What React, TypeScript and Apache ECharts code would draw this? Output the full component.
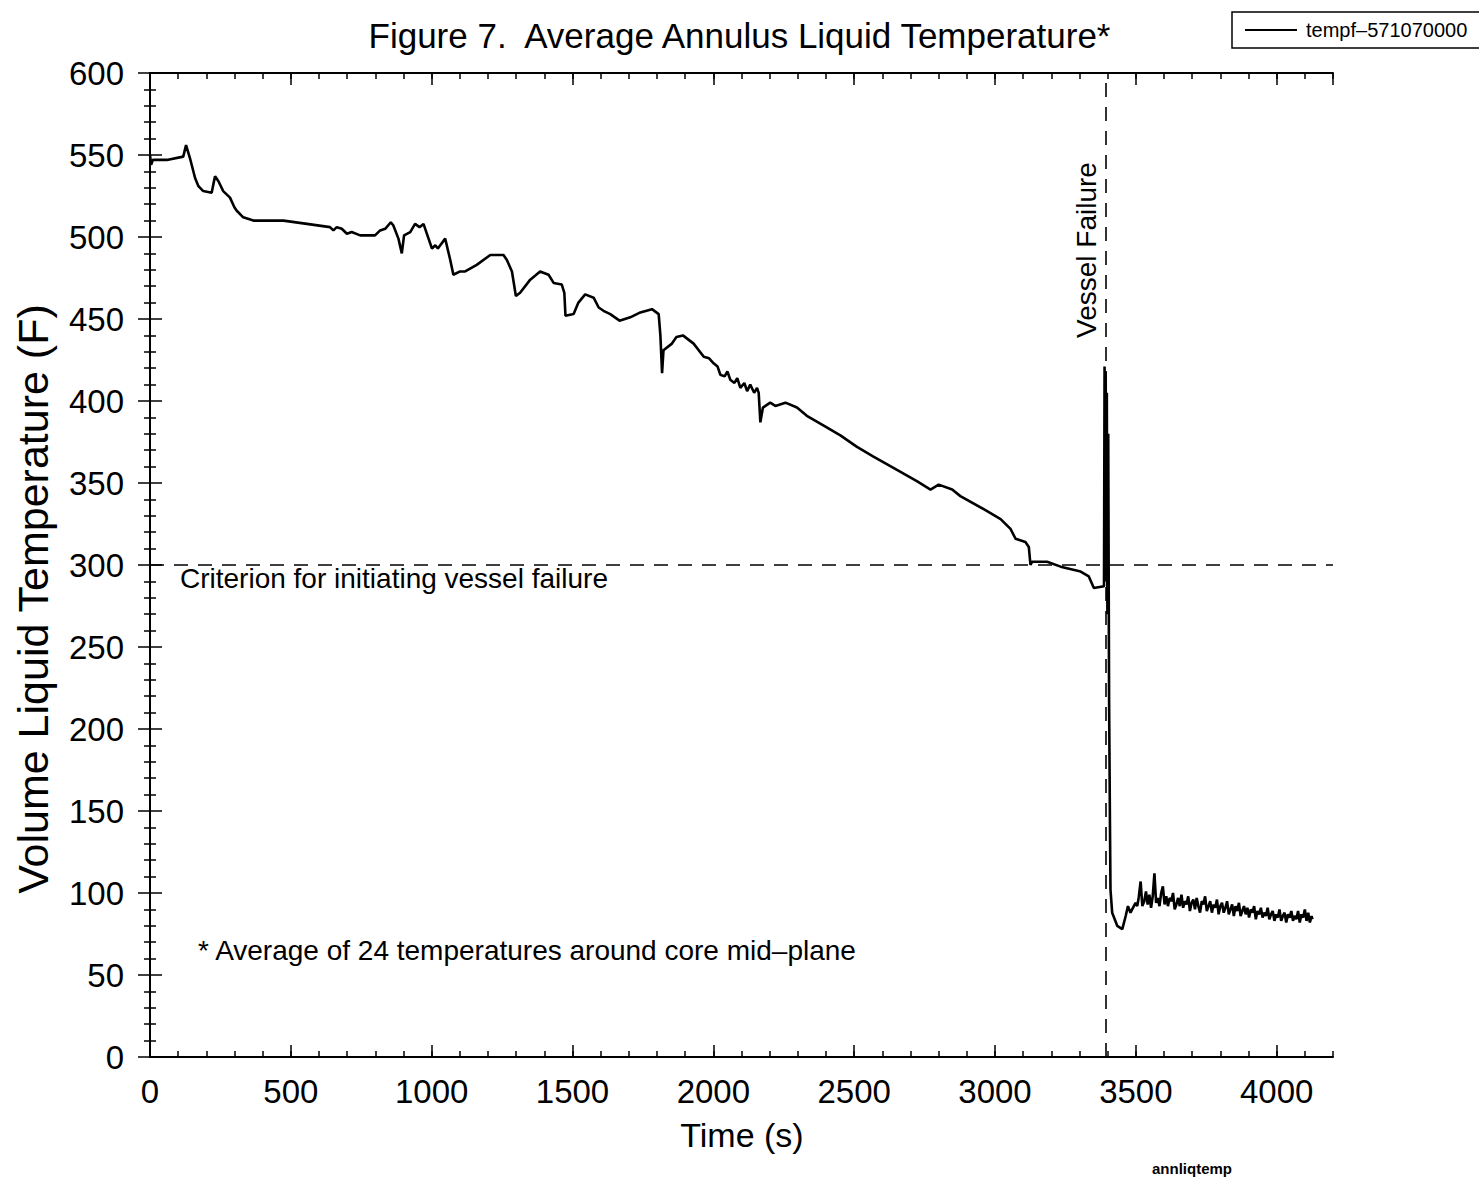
import React, { useEffect, useRef } from "react";
import * as echarts from "echarts";

const FONT = "Liberation Sans, Arial, Helvetica, sans-serif";

const chartTitle = "Figure 7.  Average Annulus Liquid Temperature*";
const seriesName = "tempf–571070000";
const xTitle = "Time (s)";
const yTitle = "Volume Liquid Temperature (F)";
const criterionText = "Criterion for initiating vessel failure";
const footnoteText = "* Average of 24 temperatures around core mid–plane";
const vesselText = "Vessel Failure";
const fileTag = "annliqtemp";

const criterionTemp = 300;
const vesselFailureTime = 3393;

// Time (s)
const times = [
  0, 4, 10, 60, 118, 128, 142, 160, 172, 189, 219, 226, 231, 243, 260, 284, 300, 308, 331, 367,
  420, 474, 557, 639, 651, 663, 681, 699, 716, 746, 799, 817, 835, 855, 864, 882, 894, 902, 924, 941,
  957, 971, 985, 1001, 1013, 1022, 1048, 1066, 1077, 1101, 1119, 1160, 1208, 1255, 1267, 1285, 1299, 1314, 1350, 1385,
  1415, 1433, 1462, 1471, 1475, 1504, 1521, 1545, 1575, 1593, 1610, 1634, 1667, 1705, 1741, 1782, 1806, 1812, 1818, 1823,
  1853, 1869, 1892, 1930, 1966, 1985, 2001, 2015, 2025, 2040, 2050, 2060, 2075, 2085, 2096, 2110, 2120, 2131, 2145, 2155,
  2161, 2167, 2176, 2202, 2220, 2256, 2297, 2332, 2392, 2451, 2510, 2570, 2652, 2724, 2771, 2800, 2848, 2877, 2960, 3020,
  3055, 3073, 3108, 3120, 3126, 3132, 3185, 3233, 3304, 3333, 3351, 3387,
  3389, 3391, 3393, 3395, 3397, 3399, 3402, 3405, 3408, 3410, 3416, 3434, 3452, 3464, 3472, 3481, 3499,
  3505, 3510, 3517, 3523, 3530, 3536, 3542, 3548, 3554, 3560, 3566, 3572, 3578, 3584, 3590, 3596, 3602, 3608, 3614, 3620,
  3626, 3632, 3638, 3644, 3650, 3656, 3662, 3668, 3674, 3680, 3686, 3692, 3698, 3704, 3710, 3716, 3722, 3728, 3734, 3740,
  3746, 3752, 3758, 3764, 3770, 3776, 3782, 3788, 3794, 3800, 3806, 3812, 3818, 3824, 3830, 3836, 3842, 3848, 3854, 3860,
  3866, 3872, 3878, 3884, 3890, 3896, 3902, 3908, 3914, 3920, 3926, 3932, 3938, 3944, 3950, 3956, 3962, 3968, 3974, 3980,
  3986, 3992, 3998, 4004, 4010, 4016, 4022, 4028, 4034, 4040, 4046, 4052, 4058, 4064, 4070, 4076, 4082, 4088, 4094, 4100,
  4106, 4112, 4118, 4124, 4127,
];

// Temperature (F)
const temps = [
  550, 544, 547, 547, 549, 556, 548, 536, 531, 528, 527, 533, 537, 534, 528, 524, 518, 516, 512, 510,
  510, 510, 508, 506, 504, 506, 505, 502, 503, 501, 501, 504, 505, 509, 507, 499, 490, 501, 503, 508,
  506, 508, 501, 493, 495, 493, 499, 486, 477, 479, 479, 483, 489, 489, 486, 479, 464, 466, 474, 479,
  477, 472, 471, 466, 452, 453, 460, 465, 463, 457, 455, 453, 449, 451, 454, 456, 453, 440, 417, 431,
  435, 439, 440, 435, 427, 426, 423, 421, 416, 415, 418, 413, 411, 414, 408, 411, 406, 410, 405, 408,
  405, 387, 396, 399, 397, 399, 396, 391, 385, 379, 372, 366, 358, 351, 346, 349, 346, 342, 334, 328,
  322, 316, 314, 311, 300, 302, 302, 299, 296, 293, 286, 287,
  421, 330, 418, 290, 405, 270, 380, 220, 145, 102, 88, 80, 78, 86, 92, 88, 94,
  92, 97, 107, 92, 95, 101, 93, 99, 91, 98, 112, 94, 97, 92, 100, 104, 93, 98, 92, 97,
  95, 100, 90, 93, 97, 92, 99, 91, 95, 93, 98, 89, 94, 96, 90, 97, 92, 88, 95, 93,
  98, 89, 92, 95, 88, 93, 91, 96, 87, 92, 94, 88, 91, 95, 87, 90, 93, 86, 92, 89,
  94, 86, 89, 92, 87, 91, 85, 90, 88, 92, 84, 89, 87, 91, 85, 88, 86, 91, 84, 87,
  89, 83, 87, 85, 90, 83, 86, 88, 82, 87, 85, 89, 83, 86, 84, 89, 82, 87, 85, 90,
  83, 88, 82, 86, 84,
];

const xMin = 0;
const xMax = 4200;
const xMajor = 500;
const xMinor = 100;
const yMin = 0;
const yMax = 600;
const yMajor = 50;

export default function App() {
  const ref = useRef<HTMLDivElement>(null);

  useEffect(() => {
    if (!ref.current) return;
    const chart = echarts.init(ref.current, undefined, { renderer: "svg" });
    const data = times.map((t, i) => [t, temps[i]]);
    const black = "#000";
    const axisLine = { show: true, lineStyle: { color: black, width: 2 } };
    const majorTick = { show: true, inside: true, length: 12, lineStyle: { color: black, width: 1.5 } };
    const minorTickX = { show: true, inside: true, length: 6, lineStyle: { color: black, width: 1.5 } };

    const xBase = (extra: any) => ({
      type: "value",
      min: xMin,
      max: xMax,
      splitLine: { show: false },
      ...extra,
    });

    const textEl = (
      x: number,
      y: number,
      text: string,
      font: string,
      align: string,
      rotation = 0
    ) => ({
      type: "text",
      x,
      y,
      rotation,
      style: {
        text,
        font,
        fill: black,
        align,
        verticalAlign: "middle",
        textAlign: align,
        textVerticalAlign: "middle",
      },
    });

    chart.setOption({
      animation: false,
      backgroundColor: "#fff",
      title: {
        text: chartTitle,
        left: "center",
        top: 13,
        textStyle: { fontFamily: FONT, fontSize: 35, fontWeight: "normal", color: black },
      },
      legend: {
        data: [seriesName],
        left: 1232,
        top: 12,
        orient: "horizontal",
        icon: "rect",
        borderColor: black,
        borderWidth: 1.5,
        borderRadius: 0,
        padding: [8, 30, 8, 13],
        itemWidth: 52,
        itemHeight: 2,
        textStyle: { fontFamily: FONT, fontSize: 20, color: black, padding: [0, 0, 0, 4] },
      },
      grid: { left: 150, right: 146, top: 73, bottom: 123, containLabel: false },
      xAxis: [
        xBase({
          position: "bottom",
          interval: xMajor,
          axisLine,
          axisTick: majorTick,
          axisLabel: {
            show: true,
            margin: 18,
            showMaxLabel: false,
            formatter: (v: number) => String(v),
            fontFamily: FONT,
            fontSize: 33,
            color: black,
          },
        }),
        xBase({
          position: "bottom",
          interval: xMinor,
          axisLine: { show: false },
          axisTick: minorTickX,
          axisLabel: { show: false },
        }),
        xBase({
          position: "top",
          interval: xMajor,
          axisLine,
          axisTick: majorTick,
          axisLabel: { show: false },
        }),
        xBase({
          position: "top",
          interval: xMinor,
          axisLine: { show: false },
          axisTick: minorTickX,
          axisLabel: { show: false },
        }),
      ],
      yAxis: [
        {
          type: "value",
          position: "left",
          min: yMin,
          max: yMax,
          interval: yMajor,
          axisLine,
          axisTick: majorTick,
          minorTick: { show: true, splitNumber: 5, length: 6, lineStyle: { color: black, width: 1.5 } },
          splitLine: { show: false },
          axisLabel: { margin: 26, fontFamily: FONT, fontSize: 33, color: black },
        },
        {
          type: "value",
          position: "right",
          min: yMin,
          max: yMax,
          interval: yMajor,
          axisLine,
          axisTick: majorTick,
          minorTick: { show: true, splitNumber: 5, length: 6, lineStyle: { color: black, width: 1.5 } },
          splitLine: { show: false },
          axisLabel: { show: false },
        },
      ],
      series: [
        {
          name: seriesName,
          type: "line",
          xAxisIndex: 0,
          yAxisIndex: 0,
          data,
          symbol: "none",
          showSymbol: false,
          lineStyle: { color: black, width: 2.6 },
          itemStyle: { color: black },
          markLine: {
            silent: true,
            symbol: "none",
            label: { show: false },
            lineStyle: { color: black, width: 1.6, type: [14, 10] },
            data: [{ yAxis: criterionTemp }, { xAxis: vesselFailureTime }],
          },
        },
      ],
      graphic: [
        textEl(33, 599, yTitle, `43px ${FONT}`, "center", Math.PI / 2),
        textEl(742, 1135, xTitle, `34px ${FONT}`, "center"),
        textEl(180, 578, criterionText, `28px ${FONT}`, "left"),
        textEl(198, 950, footnoteText, `28px ${FONT}`, "left"),
        textEl(1086, 250, vesselText, `28px ${FONT}`, "center", Math.PI / 2),
        textEl(1192, 1168, fileTag, `bold 15px ${FONT}`, "center"),
      ],
    });

    return () => chart.dispose();
  }, []);

  return (
    <div
      ref={ref}
      style={{ position: "fixed", left: 0, top: 0, width: 1479, height: 1180, background: "#fff" }}
    />
  );
}
